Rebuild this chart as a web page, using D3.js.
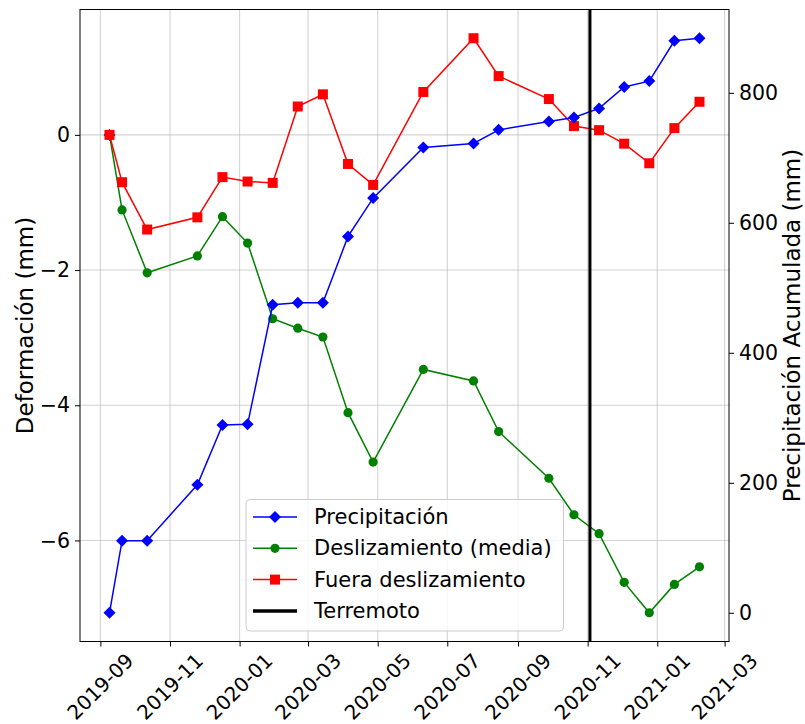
<!DOCTYPE html>
<html>
<head>
<meta charset="utf-8">
<script src="https://cdn.jsdelivr.net/npm/d3@7"></script>
<style>
  html, body { margin: 0; padding: 0; background: #ffffff; }
  svg { display: block; font-family: "DejaVu Sans", sans-serif; }
</style>
</head>
<body>
<svg id="chart" width="805" height="724"></svg>
<script>
// Acquisition dates (UTC)
const dates = [
  "2019-09-09", "2019-09-20", "2019-10-12", "2019-11-25", "2019-12-17",
  "2020-01-08", "2020-01-30", "2020-02-21", "2020-03-14", "2020-04-05",
  "2020-04-27", "2020-06-10", "2020-07-24", "2020-08-15", "2020-09-28",
  "2020-10-20", "2020-11-11", "2020-12-03", "2020-12-25", "2021-01-16",
  "2021-02-07"
];

// Cumulative precipitation (mm), right axis
const precipitacion = [
  0, 111, 111, 197, 289, 290, 474, 477, 477, 579,
  638, 716, 722, 743, 756, 762, 776, 809, 818, 880, 884
];

// Mean deformation inside the landslide (mm), left axis
const deslizamiento = [
  0, -1.11, -2.04, -1.79, -1.21, -1.60, -2.72, -2.86, -2.99, -4.11,
  -4.84, -3.47, -3.64, -4.39, -5.08, -5.62, -5.90, -6.62, -7.07, -6.65, -6.39
];

// Deformation outside the landslide (mm), left axis
const fuera = [
  0, -0.70, -1.40, -1.22, -0.625, -0.69, -0.71, 0.42, 0.60, -0.43,
  -0.74, 0.635, 1.43, 0.87, 0.53, 0.13, 0.07, -0.13, -0.42, 0.10, 0.49
];

// Earthquake date
const terremoto = "2020-11-03";

const xTickDates = ["2019-09-01", "2019-11-01", "2020-01-01", "2020-03-01", "2020-05-01",
  "2020-07-01", "2020-09-01", "2020-11-01", "2021-01-01", "2021-03-01"];
const yLeftTicks = [-6, -4, -2, 0];
const yRightTicks = [0, 200, 400, 600, 800];

const labels = {
  yLeft: "Deformación (mm)",
  yRight: "Precipitación Acumulada (mm)",
  precip: "Precipitación",
  desl: "Deslizamiento (media)",
  fuera: "Fuera deslizamiento",
  quake: "Terremoto"
};

const parse = d3.utcParse("%Y-%m-%d");
const t = dates.map(parse);

// Plot area
const L = 80, R = 729, T = 9.5, B = 641.5;

function padded(lo, hi) {
  const m = (hi - lo) * 0.05;
  return [lo - m, hi + m];
}

const tExt = d3.extent(t);
const tPad = (tExt[1] - tExt[0]) * 0.05;
const x = d3.scaleUtc()
  .domain([new Date(+tExt[0] - tPad), new Date(+tExt[1] + tPad)])
  .range([L, R]);

const leftVals = deslizamiento.concat(fuera);
const yL = d3.scaleLinear()
  .domain(padded(d3.min(leftVals), d3.max(leftVals)))
  .range([B, T]);

const yR = d3.scaleLinear()
  .domain(padded(d3.min(precipitacion), d3.max(precipitacion)))
  .range([B, T]);

const svg = d3.select("#chart");
const tickFont = 20.5;
const dateFont = 20;
const labelFont = 23;
const legendFont = 21;
const minus = s => s.replace("-", "\u2212");

// Grid
const grid = svg.append("g").attr("stroke", "#b0b0b0").attr("stroke-opacity", 0.55).attr("stroke-width", 1.1);
xTickDates.map(parse).forEach(d => {
  grid.append("line").attr("x1", x(d)).attr("x2", x(d)).attr("y1", T).attr("y2", B);
});
yLeftTicks.forEach(v => {
  grid.append("line").attr("x1", L).attr("x2", R).attr("y1", yL(v)).attr("y2", yL(v));
});

// Axes (ticks only on the bottom; labels drawn separately)
const xAxis = d3.axisBottom(x).tickValues(xTickDates.map(parse)).tickSize(5).tickFormat("");
svg.append("g").attr("transform", `translate(0,${B})`).call(xAxis)
  .call(g => g.select(".domain").remove());

const leftAxis = d3.axisLeft(yL).tickValues(yLeftTicks).tickSize(5).tickPadding(5)
  .tickFormat(d => minus(d3.format("d")(d)));
svg.append("g").attr("transform", `translate(${L},0)`).call(leftAxis)
  .call(g => g.select(".domain").remove())
  .call(g => g.selectAll("text").attr("font-size", tickFont).attr("font-family", "DejaVu Sans").attr("fill", "#000"));

const rightAxis = d3.axisRight(yR).tickValues(yRightTicks).tickSize(5).tickPadding(5)
  .tickFormat(d3.format("d"));
svg.append("g").attr("transform", `translate(${R},0)`).call(rightAxis)
  .call(g => g.select(".domain").remove())
  .call(g => g.selectAll("text").attr("font-size", tickFont).attr("font-family", "DejaVu Sans").attr("fill", "#000"));

// Rotated date labels
const fmt = d3.utcFormat("%Y-%m");
svg.append("g").selectAll("text").data(xTickDates.map(parse)).join("text")
  .attr("transform", d => `translate(${x(d)},${B + 45}) rotate(-45)`)
  .attr("text-anchor", "middle")
  .attr("dominant-baseline", "central")
  .attr("font-size", dateFont)
  .attr("fill", "#000")
  .text(d => fmt(d));

// Axis titles
svg.append("text")
  .attr("transform", `translate(25,${(T + B) / 2}) rotate(-90)`)
  .attr("text-anchor", "middle").attr("dominant-baseline", "central")
  .attr("font-size", labelFont).attr("fill", "#000")
  .text(labels.yLeft);
svg.append("text")
  .attr("transform", `translate(792,${(T + B) / 2}) rotate(-90)`)
  .attr("text-anchor", "middle").attr("dominant-baseline", "central")
  .attr("font-size", labelFont).attr("fill", "#000")
  .text(labels.yRight);

// Marker helpers
const diamond = d3.symbol().type(d3.symbolSquare).size(72);
function drawDiamond(g, cx, cy, color) {
  g.append("path").attr("d", diamond())
    .attr("transform", `translate(${cx},${cy}) rotate(45)`)
    .attr("fill", color);
}
function drawSquare(g, cx, cy, color) {
  g.append("rect").attr("x", cx - 5).attr("y", cy - 5).attr("width", 10).attr("height", 10).attr("fill", color);
}
function drawCircle(g, cx, cy, color) {
  g.append("circle").attr("cx", cx).attr("cy", cy).attr("r", 4.6).attr("fill", color);
}

const plot = svg.append("g");

// Legend proxy for precipitation on the left axis (start point)
drawDiamond(plot, x(t[0]), yL(0), "#0000ff");

function series(vals, yScale, color, marker) {
  const line = d3.line().x((d, i) => x(t[i])).y(d => yScale(d));
  plot.append("path").datum(vals).attr("d", line)
    .attr("fill", "none").attr("stroke", color).attr("stroke-width", 1.5);
  vals.forEach((v, i) => marker(plot, x(t[i]), yScale(v), color));
}

series(deslizamiento, yL, "#008000", drawCircle);
series(fuera, yL, "#ff0000", drawSquare);
series(precipitacion, yR, "#0000ff", drawDiamond);

// Earthquake marker line
const tq = parse(terremoto);
plot.append("line").attr("x1", x(tq)).attr("x2", x(tq)).attr("y1", T).attr("y2", B)
  .attr("stroke", "#000").attr("stroke-width", 3);

// Frame
svg.append("rect").attr("x", L).attr("y", T).attr("width", R - L).attr("height", B - T)
  .attr("fill", "none").attr("stroke", "#000").attr("stroke-width", 1);

// Legend
const lg = svg.append("g");
lg.append("rect").attr("x", 246).attr("y", 499.5).attr("width", 317.5).attr("height", 131.5)
  .attr("rx", 4).attr("ry", 4)
  .attr("fill", "#ffffff").attr("fill-opacity", 0.8)
  .attr("stroke", "#cccccc").attr("stroke-width", 1);

const legendItems = [
  { label: labels.precip, color: "#0000ff", marker: drawDiamond, w: 1.5 },
  { label: labels.desl, color: "#008000", marker: drawCircle, w: 1.5 },
  { label: labels.fuera, color: "#ff0000", marker: drawSquare, w: 1.5 },
  { label: labels.quake, color: "#000000", marker: null, w: 3.5 }
];
legendItems.forEach((it, i) => {
  const cy = 517 + i * 31.3;
  lg.append("line").attr("x1", 253).attr("x2", 297).attr("y1", cy).attr("y2", cy)
    .attr("stroke", it.color).attr("stroke-width", it.w);
  if (it.marker) it.marker(lg, 275, cy, it.color);
  lg.append("text").attr("x", 314).attr("y", cy)
    .attr("dominant-baseline", "central")
    .attr("font-size", legendFont).attr("fill", "#000")
    .text(it.label);
});
</script>
</body>
</html>
